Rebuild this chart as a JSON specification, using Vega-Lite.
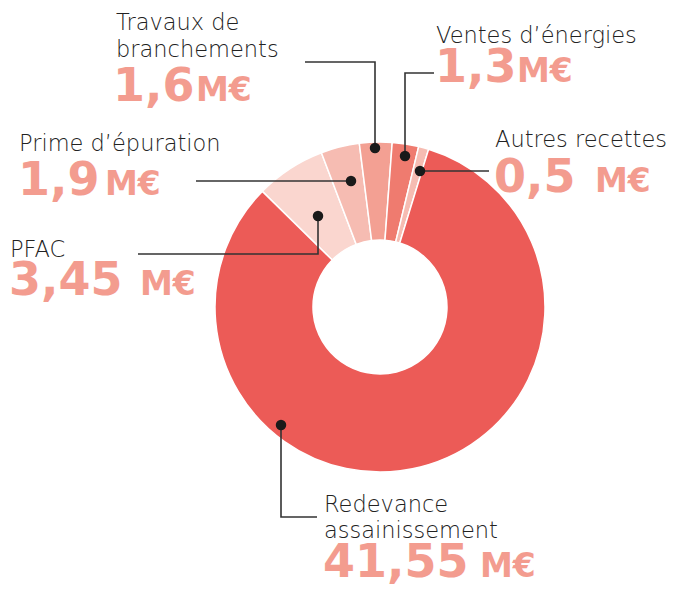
{
  "$schema": "https://vega.github.io/schema/vega-lite/v6.json",
  "width": 675,
  "height": 590,
  "autosize": {"type": "fit", "contains": "padding"},
  "padding": 0,
  "background": "white",
  "config": {"view": {"stroke": null}},
  "datasets": {
    "slices": [
      {"poste": "PFAC", "montant": 3.45, "ordre": 1},
      {"poste": "Prime d'épuration", "montant": 1.9, "ordre": 2},
      {"poste": "Travaux de branchements", "montant": 1.6, "ordre": 3},
      {"poste": "Ventes d'énergies", "montant": 1.3, "ordre": 4},
      {"poste": "Autres recettes", "montant": 0.5, "ordre": 5},
      {"poste": "Redevance assainissement", "montant": 41.55, "ordre": 6}
    ],
    "leaders": [
      {"id": "Travaux", "seq": 1, "x": 305, "y": 62},
      {"id": "Travaux", "seq": 2, "x": 375, "y": 62},
      {"id": "Travaux", "seq": 3, "x": 375, "y": 148},
      {"id": "Ventes", "seq": 1, "x": 405, "y": 156},
      {"id": "Ventes", "seq": 2, "x": 405, "y": 73},
      {"id": "Ventes", "seq": 3, "x": 434, "y": 73},
      {"id": "Autres", "seq": 1, "x": 420, "y": 171},
      {"id": "Autres", "seq": 2, "x": 489, "y": 171},
      {"id": "Prime", "seq": 1, "x": 351, "y": 181},
      {"id": "Prime", "seq": 2, "x": 196, "y": 181},
      {"id": "PFAC", "seq": 1, "x": 318, "y": 216},
      {"id": "PFAC", "seq": 2, "x": 318, "y": 254},
      {"id": "PFAC", "seq": 3, "x": 138, "y": 254},
      {"id": "Redevance", "seq": 1, "x": 281, "y": 425},
      {"id": "Redevance", "seq": 2, "x": 281, "y": 517},
      {"id": "Redevance", "seq": 3, "x": 317, "y": 517}
    ],
    "dots": [
      {"id": "Travaux", "x": 375, "y": 148},
      {"id": "Ventes", "x": 405, "y": 156},
      {"id": "Autres", "x": 420, "y": 171},
      {"id": "Prime", "x": 351, "y": 181},
      {"id": "PFAC", "x": 318, "y": 216},
      {"id": "Redevance", "x": 281, "y": 425}
    ],
    "labels": [
      {"texte": "Travaux de", "x": 116, "y": 30},
      {"texte": "branchements", "x": 116, "y": 57},
      {"texte": "Ventes d’énergies", "x": 436, "y": 43},
      {"texte": "Prime d’épuration", "x": 19, "y": 151},
      {"texte": "Autres recettes", "x": 495, "y": 147},
      {"texte": "PFAC", "x": 10, "y": 257},
      {"texte": "Redevance", "x": 324, "y": 512},
      {"texte": "assainissement", "x": 324, "y": 538}
    ],
    "nums": [
      {"texte": "1,6", "x": 113, "y": 101},
      {"texte": "1,3", "x": 435, "y": 82},
      {"texte": "1,9", "x": 18, "y": 195},
      {"texte": "0,5", "x": 494, "y": 192},
      {"texte": "3,45", "x": 9, "y": 295},
      {"texte": "41,55", "x": 323, "y": 577}
    ],
    "units": [
      {"texte": "M€", "x": 196, "y": 101},
      {"texte": "M€", "x": 517, "y": 82},
      {"texte": "M€", "x": 105, "y": 195},
      {"texte": "M€", "x": 595, "y": 192},
      {"texte": "M€", "x": 140, "y": 295},
      {"texte": "M€", "x": 480, "y": 577}
    ]
  },
  "layer": [
    {
      "data": {"name": "slices"},
      "mark": {"type": "arc", "outerRadius": 165, "innerRadius": 67, "stroke": "white", "strokeWidth": 1.5},
      "encoding": {
        "x": {"datum": 380, "type": "quantitative", "scale": {"domain": [0, 675], "nice": false, "zero": false}, "axis": null},
        "y": {"datum": 307, "type": "quantitative", "scale": {"domain": [0, 590], "nice": false, "zero": false, "reverse": true}, "axis": null},
        "theta": {"field": "montant", "type": "quantitative", "stack": true, "scale": {"range": [-0.794, 5.489]}},
        "order": {"field": "ordre", "type": "quantitative"},
        "color": {
          "field": "poste",
          "type": "nominal",
          "legend": null,
          "scale": {
            "domain": ["PFAC", "Prime d'épuration", "Travaux de branchements", "Ventes d'énergies", "Autres recettes", "Redevance assainissement"],
            "range": ["#FAD6CF", "#F6BCB2", "#F3A093", "#EF7B6F", "#F6BCB2", "#EC5B57"]
          }
        }
      }
    },
    {
      "data": {"name": "leaders"},
      "mark": {"type": "line", "color": "#333333", "strokeWidth": 1.6},
      "encoding": {
        "x": {"field": "x", "type": "quantitative", "axis": null},
        "y": {"field": "y", "type": "quantitative", "axis": null},
        "detail": {"field": "id"},
        "order": {"field": "seq", "type": "quantitative"}
      }
    },
    {
      "data": {"name": "dots"},
      "mark": {"type": "circle", "color": "#1a1a1a", "opacity": 1, "size": 110},
      "encoding": {
        "x": {"field": "x", "type": "quantitative", "axis": null},
        "y": {"field": "y", "type": "quantitative", "axis": null}
      }
    },
    {
      "data": {"name": "labels"},
      "mark": {"type": "text", "align": "left", "baseline": "alphabetic", "font": "DejaVu Sans", "fontWeight": 200, "fontSize": 22.5, "color": "#222222"},
      "encoding": {
        "x": {"field": "x", "type": "quantitative", "axis": null},
        "y": {"field": "y", "type": "quantitative", "axis": null},
        "text": {"field": "texte"}
      }
    },
    {
      "data": {"name": "nums"},
      "mark": {"type": "text", "align": "left", "baseline": "alphabetic", "font": "DejaVu Sans", "fontWeight": "bold", "fontSize": 46, "color": "#F39C8F"},
      "encoding": {
        "x": {"field": "x", "type": "quantitative", "axis": null},
        "y": {"field": "y", "type": "quantitative", "axis": null},
        "text": {"field": "texte"}
      }
    },
    {
      "data": {"name": "units"},
      "mark": {"type": "text", "align": "left", "baseline": "alphabetic", "font": "DejaVu Sans", "fontWeight": "bold", "fontSize": 33, "color": "#F39C8F"},
      "encoding": {
        "x": {"field": "x", "type": "quantitative", "axis": null},
        "y": {"field": "y", "type": "quantitative", "axis": null},
        "text": {"field": "texte"}
      }
    }
  ]
}
